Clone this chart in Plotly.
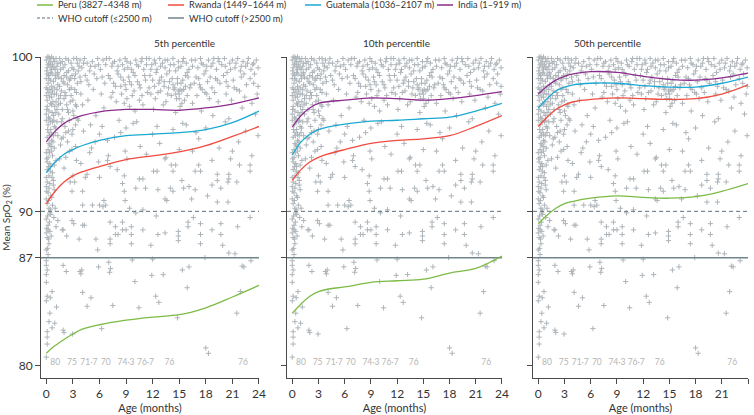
import plotly.graph_objects as go

# ---------------- data ----------------
PANELS = ["5th percentile", "10th percentile", "50th percentile"]
AGE_TICKS = [0, 3, 6, 9, 12, 15, 18, 21, 24]
SPO2_TICKS = [80, 87, 90, 100]
AGE_RANGE = [-0.6, 24]
SPO2_RANGE = [79.2, 100]
WHO_LOW = 90   # cutoff <=2500 m
WHO_HIGH = 87  # cutoff >2500 m

SITES = ["Peru (3827–4348 m)", "Rwanda (1449–1644 m)",
         "Guatemala (1036–2107 m)", "India (1–919 m)"]
SITE_COLORS = ["#7cbb45", "#f04b3f", "#1ba9d3", "#8b2c8d"]
WHO_NAMES = ["WHO cutoff (≤2500 m)", "WHO cutoff (>2500 m)"]

CURVE_AGES = [0, 1, 2, 3, 4, 6, 9, 12, 15, 18, 21, 24]
# curves per panel: [Peru, Rwanda, Guatemala, India]
p5_peru = [80.8, 81.3, 81.7, 82.05, 82.35, 82.65, 82.95, 83.15, 83.3, 83.75, 84.45, 85.2]
p5_rwanda = [90.5, 91.3, 91.9, 92.3, 92.55, 92.9, 93.35, 93.6, 93.85, 94.25, 94.85, 95.5]
p5_guat = [92.5, 93.2, 93.7, 94.0, 94.25, 94.6, 94.9, 95.0, 95.1, 95.3, 95.75, 96.5]
p5_india = [94.5, 95.2, 95.7, 96.0, 96.2, 96.45, 96.6, 96.6, 96.55, 96.7, 96.95, 97.35]

p10_peru = [83.4, 84.0, 84.5, 84.8, 84.95, 85.1, 85.4, 85.5, 85.6, 86.0, 86.3, 87.1]
p10_rwanda = [92.0, 92.7, 93.2, 93.5, 93.7, 94.0, 94.4, 94.6, 94.7, 94.9, 95.5, 96.2]
p10_guat = [93.65, 94.5, 95.0, 95.3, 95.45, 95.65, 95.85, 95.9, 96.0, 96.1, 96.5, 97.0]
p10_india = [95.45, 96.2, 96.7, 97.0, 97.1, 97.2, 97.35, 97.3, 97.2, 97.3, 97.5, 97.75]

p50_peru = [89.2, 89.75, 90.2, 90.5, 90.65, 90.85, 91.0, 90.9, 90.85, 90.95, 91.3, 91.8]
p50_rwanda = [95.5, 96.1, 96.6, 96.9, 97.1, 97.25, 97.35, 97.3, 97.25, 97.3, 97.6, 98.2]
p50_guat = [96.7, 97.3, 97.8, 98.05, 98.2, 98.3, 98.3, 98.15, 98.05, 98.05, 98.3, 98.7]
p50_india = [97.6, 98.1, 98.5, 98.75, 98.9, 99.05, 99.0, 98.75, 98.55, 98.5, 98.65, 98.95]

PANEL_CURVES = [
    [p5_peru, p5_rwanda, p5_guat, p5_india],
    [p10_peru, p10_rwanda, p10_guat, p10_india],
    [p50_peru, p50_rwanda, p50_guat, p50_india],
]

# labels printed along the bottom of each panel
COUNT_AGES = [1.0, 2.9, 4.8, 6.7, 9.0, 11.2, 13.9, 22.2]
COUNT_LABELS = ["80", "75", "71·7", "70", "74·3", "76·7", "76", "76"]
COUNT_Y = [80.15] * 8

# individual measurements (age in months, SpO2 %) — same in every panel
pts_newborn = [
    (0.0, 99.8), (0.2, 99.5), (0.4, 99.9), (0.6, 99.2), (0.9, 99.7), (1.2, 99.4), (0.1, 98.9), (0.3, 98.6),
    (0.5, 99.0), (0.8, 98.4), (1.0, 98.8), (1.3, 98.2), (0.0, 98.0), (0.2, 97.7), (0.4, 97.9), (0.6, 97.4),
    (0.9, 97.6), (1.1, 97.1), (0.1, 96.8), (0.3, 96.5), (0.6, 96.9), (0.8, 96.2), (1.2, 96.6), (0.0, 95.9),
    (0.2, 95.6), (0.5, 95.3), (0.7, 95.8), (1.0, 95.1), (0.1, 94.8), (0.3, 94.4), (0.6, 94.6), (0.9, 94.1),
    (0.0, 93.8), (0.2, 93.5), (0.4, 93.1), (0.7, 93.6), (0.1, 92.7), (0.3, 92.3), (0.5, 92.9), (0.8, 92.0),
    (0.0, 91.6), (0.2, 91.2), (0.4, 91.8), (0.6, 90.9), (0.1, 90.5), (0.3, 90.2), (0.5, 89.8), (0.0, 89.5),
    (0.2, 89.1), (0.4, 88.7), (0.1, 88.3), (0.3, 87.9), (0.0, 87.5), (0.2, 87.2), (0.9, 91.4), (1.1, 93.3),
    (1.3, 94.9), (1.4, 97.3), (0.8, 99.9), (0.3, 100.0), (0.6, 98.1), (0.4, 96.0), (0.9, 95.5), (0.2, 94.0),
    (0.7, 92.5), (0.5, 91.0), (0.0, 96.3), (0.1, 97.2), (0.0, 98.6), (0.1, 99.3), (1.1, 99.9), (1.4, 98.7),
    (0.5, 97.0), (0.7, 90.4), (0.2, 88.8), (0.0, 90.8), (1.0, 96.4), (1.2, 97.9), (0.3, 99.6), (0.6, 100.0),
    (0.0, 92.2), (0.1, 93.2), (0.4, 94.3), (0.8, 94.9), (0.0, 97.5), (0.2, 98.3), (0.5, 99.4), (0.9, 98.0),
    (1.3, 99.6), (0.3, 95.1), (0.6, 93.9), (0.1, 91.9), (0.4, 89.9), (0.0, 88.6), (0.3, 91.5), (0.7, 97.8),
    (0.05, 99.1), (0.25, 98.8), (0.45, 98.5), (0.65, 98.9), (0.85, 99.3), (1.05, 98.6), (1.25, 99.0), (0.15, 97.9),
    (0.35, 97.4), (0.55, 97.6), (0.75, 97.1), (0.95, 96.8), (1.15, 97.6), (1.35, 96.9), (0.05, 96.6), (0.25, 96.1),
    (0.45, 95.8), (0.65, 96.4), (0.85, 95.9), (1.05, 95.4), (0.15, 95.3), (0.35, 94.9), (0.55, 94.2), (0.75, 94.5),
    (0.05, 93.4), (0.25, 92.9), (0.45, 92.6), (0.65, 92.2), (0.05, 91.3), (0.25, 90.7), (0.45, 90.1), (0.15, 89.7),
    (0.35, 89.3), (0.05, 88.9), (0.25, 88.2), (0.15, 87.6), (0.55, 88.4), (0.85, 89.6), (1.0, 90.2), (0.6, 95.0),
    (1.2, 95.8), (1.4, 96.3), (0.9, 93.0), (0.1, 100.0), (0.5, 99.7), (0.7, 99.5), (1.0, 99.2), (1.3, 98.9),
    (0.35, 93.8), (0.8, 91.7),
]
pts_top = [
    # 1.5-4 months
    (1.5, 99.9), (1.6, 99.2), (1.8, 99.7), (2.0, 98.8), (2.1, 99.5), (2.3, 99.0), (2.5, 99.8), (2.7, 98.6),
    (2.9, 99.3), (3.1, 99.9), (3.3, 98.9), (3.5, 99.6), (1.5, 98.1), (1.7, 97.8), (1.9, 98.4), (2.2, 97.5),
    (2.4, 98.2), (2.6, 97.9), (2.8, 98.0), (3.0, 97.2), (3.2, 98.6), (3.4, 97.7), (3.6, 99.1), (1.6, 97.0),
    (1.8, 96.6), (2.0, 97.3), (2.3, 96.9), (2.5, 96.4), (2.8, 97.5), (3.1, 96.2), (3.4, 96.8), (1.7, 95.8),
    (2.1, 95.5), (2.6, 95.9), (3.0, 95.3), (3.5, 96.0), (1.9, 94.8), (2.4, 94.5), (2.9, 95.0), (3.3, 94.2),
    (1.6, 99.6), (1.9, 99.3), (2.2, 99.9), (2.5, 99.1), (2.8, 99.6), (3.1, 99.2), (3.4, 99.9), (3.7, 99.4),
    (1.7, 98.6), (2.0, 98.3), (2.3, 98.7), (2.6, 98.5), (2.9, 98.8), (3.2, 97.9), (3.5, 98.3), (3.8, 98.7),
    (1.6, 97.5), (2.1, 97.7), (2.7, 97.1), (3.3, 96.9), (3.9, 97.6), (1.8, 96.0), (2.4, 96.6), (3.0, 96.5),
    (2.2, 95.1), (1.7, 94.7), (2.6, 93.9), (3.3, 95.6), (1.5, 93.4), (2.0, 92.8),
    # 4-9 months
    (3.8, 99.8), (4.0, 99.3), (4.3, 99.9), (4.6, 99.6), (4.9, 99.1), (5.2, 99.7), (5.5, 99.4), (5.8, 99.9),
    (6.1, 99.2), (6.4, 99.8), (6.7, 99.5), (3.9, 98.4), (4.4, 98.8), (4.8, 98.2), (5.3, 97.9), (5.7, 98.6),
    (6.2, 97.6), (6.6, 98.3), (4.1, 96.9), (4.7, 97.2), (5.0, 95.6), (5.6, 96.2), (6.0, 95.0), (6.5, 96.7),
    (6.9, 94.6), (4.2, 99.6), (5.0, 99.4), (5.9, 99.5), (6.8, 99.9), (7.5, 99.6), (8.1, 99.4), (8.8, 99.2),
    (4.6, 98.5), (5.4, 98.9), (6.3, 98.7), (7.0, 98.8), (7.8, 98.1), (8.4, 98.7), (8.9, 98.2), (7.5, 97.7),
    # 7-11.5 months
    (7.1, 99.9), (7.4, 99.4), (7.7, 99.7), (8.0, 99.1), (8.3, 99.8), (8.6, 99.5), (8.9, 99.9), (9.2, 99.3),
    (9.5, 99.6), (9.8, 99.0), (10.1, 99.8), (10.4, 99.4), (10.7, 99.7), (11.0, 99.2), (11.3, 99.9), (7.2, 98.6),
    (7.6, 98.3), (8.1, 98.9), (8.4, 98.1), (8.7, 98.5), (9.0, 97.9), (9.3, 98.7), (9.6, 98.2), (9.9, 97.8),
    (10.3, 98.4), (10.6, 98.0), (11.1, 98.8), (7.3, 97.4), (7.9, 97.1), (8.5, 97.6), (8.8, 97.0), (9.1, 97.3),
    (9.4, 96.8), (9.7, 97.5), (10.0, 96.5), (10.5, 97.2), (10.9, 96.9), (11.4, 97.7), (8.2, 95.9), (9.0, 95.4),
    # 9-17 months
    (9.1, 99.7), (9.6, 99.2), (10.2, 99.5), (10.8, 99.9), (11.3, 99.5), (11.8, 99.2), (12.3, 99.6), (12.9, 99.4),
    (13.4, 99.8), (13.9, 99.1), (14.4, 99.5), (14.9, 99.3), (15.4, 99.7), (15.9, 99.0), (16.5, 99.4), (9.4, 98.4),
    (10.0, 98.8), (10.5, 98.2), (11.2, 98.5), (11.6, 98.0), (12.2, 98.1), (12.8, 98.5), (13.3, 98.4), (13.8, 98.0),
    (14.3, 98.2), (14.8, 98.6), (15.2, 98.3), (15.7, 98.8), (16.2, 98.0), (14.6, 97.6), (15.0, 97.3), (15.5, 97.9),
    (14.9, 97.8), (15.3, 97.0), (12.6, 97.7), (13.7, 97.6), (10.8, 97.5), (16.7, 98.3), (17.2, 98.6), (17.9, 97.7),
    # 11.5-16.6 months
    (11.6, 99.9), (11.9, 99.5), (12.2, 99.8), (12.5, 99.2), (12.8, 99.9), (13.1, 99.6), (13.4, 99.3), (13.7, 99.8),
    (14.0, 99.5), (14.3, 99.9), (14.6, 99.1), (14.9, 99.7), (15.2, 99.4), (15.5, 99.9), (15.8, 99.6), (16.1, 99.2),
    (16.4, 99.8), (11.7, 98.8), (12.0, 98.5), (12.4, 99.0), (12.7, 98.3), (13.0, 98.7), (13.3, 98.1), (13.6, 98.9),
    (13.9, 98.4), (14.2, 98.6), (14.5, 98.0), (14.8, 98.3), (15.1, 97.9), (15.4, 98.5), (15.7, 98.1), (16.0, 98.7),
    (16.3, 98.2), (11.8, 97.6), (12.3, 97.3), (12.9, 97.8), (13.5, 97.1), (14.1, 97.5), (14.4, 97.9), (14.7, 97.3),
    (15.0, 97.6), (15.3, 97.8), (15.6, 97.2), (15.9, 97.5), (16.5, 97.0), (12.1, 96.6), (13.2, 96.9), (14.6, 96.4),
    (15.1, 96.8), (15.4, 95.7),
    # 16.6-24 months
    (16.8, 99.8), (17.1, 99.3), (17.4, 99.9), (17.7, 99.5), (18.0, 99.1), (18.3, 99.8), (18.6, 99.4), (18.9, 99.9),
    (19.2, 99.2), (19.5, 99.7), (19.8, 99.5), (20.1, 99.9), (20.4, 99.0), (20.7, 99.6), (21.0, 99.8), (21.3, 99.3),
    (21.6, 99.9), (21.9, 99.1), (22.2, 99.7), (22.5, 99.4), (22.8, 99.9), (23.1, 99.2), (23.4, 99.6), (23.7, 99.8),
    (16.9, 98.7), (17.3, 98.2), (17.8, 98.9), (18.2, 98.4), (18.7, 98.0), (19.1, 98.6), (19.6, 98.3), (20.0, 98.8),
    (20.5, 98.1), (21.1, 98.5), (21.5, 97.9), (22.0, 98.7), (22.6, 98.2), (23.0, 98.6), (23.5, 98.9), (17.0, 97.5),
    (17.6, 97.9), (18.4, 97.3), (19.0, 97.7), (19.4, 97.1), (20.3, 97.6), (20.9, 97.2), (21.8, 97.8), (22.4, 97.4),
    (23.2, 97.0), (23.8, 97.6), (17.5, 96.5), (18.8, 96.2), (20.6, 96.0), (22.1, 96.7), (23.6, 96.3),
    (17.5, 99.6), (18.1, 99.4), (18.8, 99.6), (19.4, 99.9), (20.2, 99.4), (20.8, 99.2), (21.4, 99.6), (22.0, 99.4),
    (22.7, 99.6), (23.3, 99.5), (23.9, 99.3), (19.3, 98.5), (20.3, 98.4), (21.2, 98.0), (22.3, 98.9), (23.4, 98.3),
    (18.5, 98.7), (17.4, 98.0), (18.1, 97.6), (23.9, 98.1),
]
pts_mid = [
    (1.6, 94.3), (2.2, 93.5), (2.9, 94.0), (3.4, 93.3), (4.2, 95.2), (4.9, 93.8), (5.5, 94.5), (6.3, 95.5),
    (7.0, 93.6), (7.7, 94.8), (8.4, 95.1), (9.1, 93.4), (9.8, 95.7), (10.6, 94.2), (11.3, 93.7), (12.0, 95.0),
    (12.8, 94.4), (13.5, 93.5), (14.3, 95.3), (15.0, 94.0), (15.8, 95.6), (16.5, 93.9), (17.2, 94.7), (18.0, 95.4),
    (18.7, 93.3), (19.5, 94.1), (20.2, 95.8), (21.0, 93.9), (21.7, 94.5), (22.5, 95.2), (23.2, 93.6), (23.9, 94.9),
    (2.5, 95.2), (5.1, 94.1), (8.9, 93.9), (12.5, 95.5), (16.9, 95.1), (20.8, 93.4), (3.6, 95.9), (10.2, 95.8),
    (3.9, 93.1), (5.9, 93.2), (6.9, 93.3), (7.2, 92.9), (8.0, 92.7), (8.8, 92.3), (8.6, 91.8), (8.8, 91.3),
    (8.9, 90.7), (10.5, 92.1), (10.9, 92.1), (10.1, 91.5), (11.2, 91.5), (12.1, 92.6), (12.5, 92.6), (12.6, 91.4),
    (13.4, 93.4), (14.1, 93.0), (14.3, 92.6), (14.6, 93.0), (14.0, 91.5), (14.3, 91.3), (13.4, 90.8), (13.6, 90.7),
    (15.3, 92.0), (15.5, 91.5), (16.1, 91.6), (16.4, 90.8), (17.2, 93.0), (17.4, 92.6), (16.8, 92.6), (16.8, 91.4),
    (18.2, 91.0), (18.7, 91.7), (19.3, 92.0), (19.3, 92.4), (19.7, 91.5), (20.6, 92.4), (20.6, 92.1), (20.5, 91.9),
    (20.5, 90.6), (21.5, 91.9), (23.0, 93.0), (23.0, 92.6), (21.8, 93.0), (19.3, 90.6), (4.1, 91.3), (2.7, 91.9),
    (3.2, 91.9), (2.9, 91.3), (3.0, 92.3), (4.1, 90.4), (5.2, 90.4), (6.0, 90.4), (6.4, 90.3), (6.7, 90.4),
    (6.5, 90.7), (6.0, 92.2), (4.4, 92.2), (4.6, 92.4), (9.4, 90.2), (10.1, 89.9), (10.9, 90.1), (12.4, 89.7),
    (8.6, 89.3), (7.8, 89.0), (7.2, 89.3), (4.1, 89.1), (4.3, 89.1), (2.9, 89.4), (3.1, 89.2), (1.8, 88.8),
    (1.9, 88.8), (1.1, 89.0), (1.3, 89.4), (2.3, 88.4), (3.7, 88.2), (5.6, 88.2), (5.8, 87.5), (7.2, 87.9),
    (7.2, 88.2), (8.6, 88.8), (9.0, 88.8), (9.6, 89.0), (9.6, 88.5), (9.6, 87.9), (10.9, 88.8), (11.8, 87.8),
    (12.6, 88.5), (13.4, 88.6), (14.9, 88.7), (14.9, 88.4), (14.9, 88.1), (16.0, 89.3), (16.0, 89.0), (16.6, 89.6),
    (17.4, 89.2), (17.4, 88.5), (17.4, 87.9), (18.7, 88.8), (19.7, 89.2), (19.7, 88.5), (19.9, 87.8), (20.6, 87.3),
    (21.6, 89.0), (23.0, 89.6), (7.8, 88.5), (8.1, 88.5),
]
pts_low = [
    (0.0, 86.8), (0.0, 86.5), (0.1, 86.2), (0.0, 85.9), (0.0, 85.4), (0.1, 84.5), (0.0, 84.2), (0.65, 84.8),
    (0.45, 84.4), (0.4, 83.4), (0.3, 82.85), (0.95, 82.75), (0.65, 82.45), (0.1, 82.2), (0.1, 81.85), (0.1, 81.4),
    (0.0, 80.55), (1.15, 83.8), (1.9, 82.3), (2.0, 82.15), (2.95, 82.05), (1.9, 86.5), (2.25, 86.1), (3.8, 86.1),
    (4.0, 86.2), (3.9, 85.95), (4.1, 84.75), (4.6, 83.85), (5.05, 84.4), (5.9, 86.4), (6.25, 82.4), (7.05, 86.7),
    (7.25, 86.3), (7.15, 86.05), (7.5, 83.9), (9.7, 86.85), (10.0, 85.45), (10.45, 83.75), (11.9, 85.85), (12.0, 86.9),
    (12.35, 84.5), (12.7, 84.1), (13.2, 85.9), (14.8, 83.1), (15.35, 86.2), (15.9, 85.05), (16.1, 86.4), (17.9, 87.0),
    (18.0, 81.15), (18.3, 80.8), (21.5, 83.4), (21.9, 84.8), (22.1, 86.45), (22.3, 86.4), (23.1, 86.8), (21.3, 87.25),
]

ALL_PTS = pts_newborn + pts_top + pts_mid + pts_low
PT_AGE = [p[0] for p in ALL_PTS]
PT_SPO2 = [p[1] for p in ALL_PTS]

# ---------------- styling / layout ----------------
FONT = "Lato"
TXT = "#333333"
AXIS = "#4a4a4a"
PT_COLOR = "#adb4b9"
WHO_LOW_COLOR = "#5e6f7d"
WHO_HIGH_COLOR = "#71858f"
W, H = 754, 415
ML, MR, MT, MB = 41, 6, 57, 37
PW, PH = W - ML - MR, H - MT - MB
DOMAINS = [[0.0, 0.3083], [0.348, 0.652], [0.696, 1.0]]


def px_to_paper(px, py):
    return (px - ML) / PW, 1 - (py - MT) / PH


fig = go.Figure()

for i in range(3):
    xa = "x" if i == 0 else f"x{i+1}"
    ya = "y" if i == 0 else f"y{i+1}"
    fig.add_trace(go.Scatter(
        x=PT_AGE, y=PT_SPO2, mode="markers", xaxis=xa, yaxis=ya,
        marker=dict(symbol="cross-thin", size=3.8, line=dict(width=1, color=PT_COLOR), color=PT_COLOR),
        showlegend=False, hoverinfo="skip", cliponaxis=False))
    fig.add_trace(go.Scatter(
        x=AGE_RANGE, y=[WHO_LOW, WHO_LOW], mode="lines", xaxis=xa, yaxis=ya,
        line=dict(color=WHO_LOW_COLOR, width=1, dash="4px,3px"), name=WHO_NAMES[0], showlegend=False))
    fig.add_trace(go.Scatter(
        x=AGE_RANGE, y=[WHO_HIGH, WHO_HIGH], mode="lines", xaxis=xa, yaxis=ya,
        line=dict(color=WHO_HIGH_COLOR, width=1.5), name=WHO_NAMES[1], showlegend=False))
    for k, (site, col) in enumerate(zip(SITES, SITE_COLORS)):
        fig.add_trace(go.Scatter(
            x=CURVE_AGES, y=PANEL_CURVES[i][k], mode="lines", xaxis=xa, yaxis=ya,
            line=dict(color=col, width=1.3, shape="spline", smoothing=1.0),
            name=site, showlegend=False))
    fig.add_trace(go.Scatter(
        x=COUNT_AGES, y=COUNT_Y, mode="text", text=COUNT_LABELS, xaxis=xa, yaxis=ya,
        textfont=dict(family=FONT, size=8.5, color="#b5b5b5"), showlegend=False, hoverinfo="skip",
        cliponaxis=False))

    xkey = "xaxis" if i == 0 else f"xaxis{i+1}"
    ykey = "yaxis" if i == 0 else f"yaxis{i+1}"
    fig.layout[xkey] = dict(
        domain=DOMAINS[i], anchor=ya, range=AGE_RANGE, tickvals=AGE_TICKS, automargin=False,
        showline=True, linecolor=AXIS, linewidth=1, ticks="outside", ticklen=5, tickcolor=AXIS,
        showgrid=False, zeroline=False, tickfont=dict(family=FONT, size=12, color=TXT),
        title=dict(text="Age (months)", font=dict(family=FONT, size=11, color=TXT), standoff=2))
    ycfg = dict(
        domain=[0, 1], anchor=xa, range=SPO2_RANGE, tickvals=SPO2_TICKS, automargin=False,
        showline=True, linecolor=AXIS, linewidth=1, ticks="outside", ticklen=5, tickcolor=AXIS,
        showgrid=False, zeroline=False, showticklabels=(i == 0),
        tickfont=dict(family=FONT, size=12, color=TXT))
    if i == 0:
        ycfg["title"] = dict(text="Mean SpO<sub>2</sub> (%)",
                             font=dict(family=FONT, size=10, color=TXT), standoff=2)
    fig.layout[ykey] = ycfg
    fig.add_annotation(
        text=PANELS[i], x=(DOMAINS[i][0] + DOMAINS[i][1]) / 2 + 0.003, y=1, xref="paper", yref="paper",
        yanchor="middle", yshift=14, showarrow=False, font=dict(family=FONT, size=10, color=TXT))

# manual legend (two rows, like the original)
LEGEND_ITEMS = [
    (SITES[0], SITE_COLORS[0], "solid", 1.5, 37, 5),
    (SITES[1], SITE_COLORS[1], "solid", 1.5, 168, 5),
    (SITES[2], SITE_COLORS[2], "solid", 1.5, 305, 5),
    (SITES[3], SITE_COLORS[3], "solid", 1.5, 437, 5),
    (WHO_NAMES[0], WHO_LOW_COLOR, "3px,2px", 1.2, 37, 18),
    (WHO_NAMES[1], WHO_HIGH_COLOR, "solid", 1.5, 168, 18),
]
for name, col, dash, lw, lx, ly in LEGEND_ITEMS:
    x0, y0 = px_to_paper(lx, ly)
    x1, _ = px_to_paper(lx + 16, ly)
    xt, _ = px_to_paper(lx + 19, ly)
    fig.add_shape(type="line", xref="paper", yref="paper", x0=x0, x1=x1, y0=y0, y1=y0,
                  line=dict(color=col, width=lw, dash=dash))
    fig.add_annotation(text=name, xref="paper", yref="paper", x=xt, y=y0, xanchor="left",
                       yanchor="middle", showarrow=False, font=dict(family=FONT, size=9.2, color=TXT))

fig.update_layout(
    template="none",
    width=W, height=H,
    margin=dict(l=ML, r=MR, t=MT, b=MB, autoexpand=False),
    paper_bgcolor="white", plot_bgcolor="white",
    font=dict(family=FONT, color=TXT),
    showlegend=False,
)

fig.write_html("out.html", config={"displayModeBar": False},
               post_script="document.body.style.margin='0px';")
